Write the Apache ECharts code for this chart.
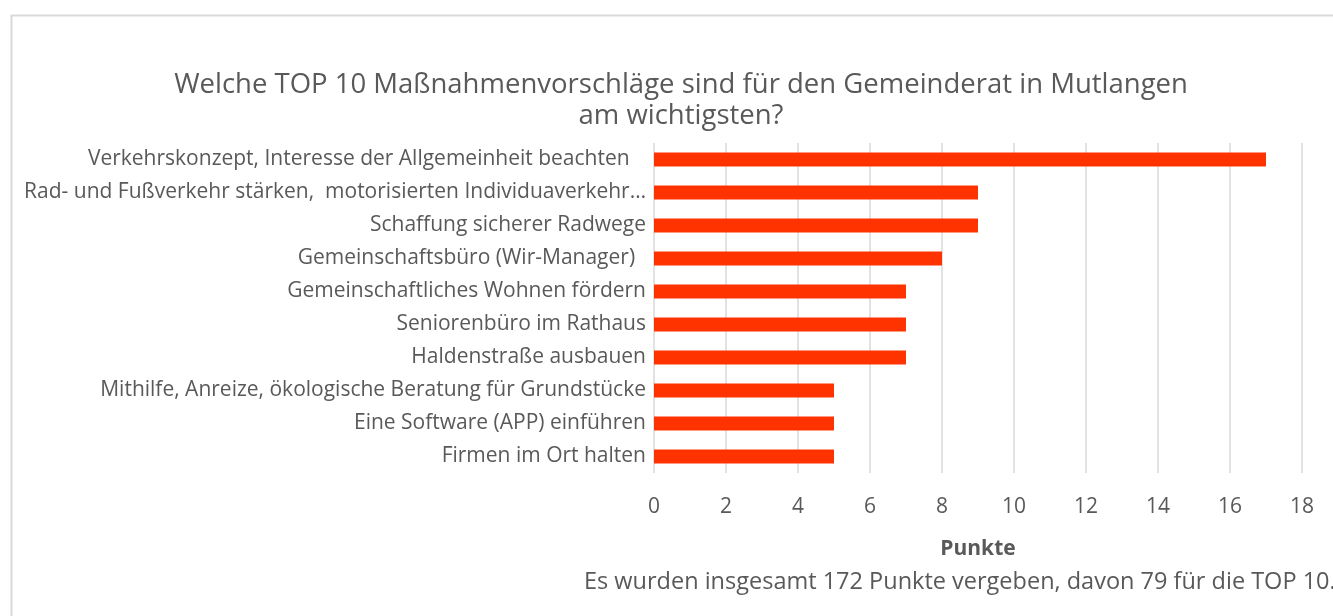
<!DOCTYPE html>
<html>
<head>
<meta charset="utf-8">
<script src="https://cdn.jsdelivr.net/npm/echarts@6/dist/echarts.min.js"></script>
<style>
  html, body { margin: 0; padding: 0; background: #fff; }
  #chart { width: 1333px; height: 616px; }
</style>
</head>
<body>
<div id="chart"></div>
<script>
const categories = [
  'Verkehrskonzept, Interesse der Allgemeinheit beachten   ',
  'Rad- und Fußverkehr stärken,  motorisierten Individuaverkehr…',
  'Schaffung sicherer Radwege',
  'Gemeinschaftsbüro (Wir-Manager)  ',
  'Gemeinschaftliches Wohnen fördern',
  'Seniorenbüro im Rathaus',
  'Haldenstraße ausbauen',
  'Mithilfe, Anreize, ökologische Beratung für Grundstücke',
  'Eine Software (APP) einführen',
  'Firmen im Ort halten'
];
const punkte = [17, 9, 9, 8, 7, 7, 7, 5, 5, 5];

const textColor = '#595959';
const font = 'Open Sans';

const chartDom = document.getElementById('chart');
const myChart = echarts.init(chartDom);

const option = {
  animation: false,
  textStyle: { fontFamily: font },
  title: {
    text: 'Welche TOP 10 Maßnahmenvorschläge sind für den Gemeinderat in Mutlangen\nam wichtigsten?',
    left: 676,
    top: 65,
    textAlign: 'center',
    textStyle: {
      fontFamily: font,
      fontSize: 27.5,
      fontWeight: 'normal',
      color: textColor,
      lineHeight: 31
    }
  },
  grid: {
    left: 654,
    right: 31,
    top: 143,
    bottom: 143,
    containLabel: false
  },
  xAxis: {
    type: 'value',
    min: 0,
    max: 18,
    interval: 2,
    name: 'Punkte',
    nameLocation: 'middle',
    nameGap: 66,
    nameTextStyle: {
      fontFamily: font,
      fontSize: 21,
      fontWeight: 'bold',
      color: textColor
    },
    axisLine: { show: false },
    axisTick: { show: false },
    axisLabel: {
      margin: 24,
      fontFamily: font,
      fontSize: 21,
      color: textColor
    },
    splitLine: { lineStyle: { color: '#d9d9d9', width: 1.5 } }
  },
  yAxis: {
    type: 'category',
    data: categories,
    inverse: true,
    axisLine: { show: false },
    axisTick: { show: false },
    axisLabel: {
      margin: 8,
      fontFamily: font,
      fontSize: 21,
      color: textColor
    }
  },
  series: [
    {
      name: 'Punkte',
      type: 'bar',
      data: punkte,
      barWidth: '42%',
      itemStyle: { color: '#ff3300' }
    }
  ],
  graphic: [
    {
      type: 'rect',
      left: 9,
      top: 13,
      shape: { width: 1400, height: 700 },
      style: { fill: 'none', stroke: '#d9d9d9', lineWidth: 2 },
      z: -1
    },
    {
      type: 'text',
      left: 584,
      top: 570,
      style: {
        text: 'Es wurden insgesamt 172 Punkte vergeben, davon 79 für die TOP 10.',
        fontFamily: font,
        fontSize: 23.5,
        fill: textColor
      }
    }
  ]
};

myChart.setOption(option);

window.addEventListener('resize', function () {
  myChart.resize();
});
</script>
</body>
</html>
